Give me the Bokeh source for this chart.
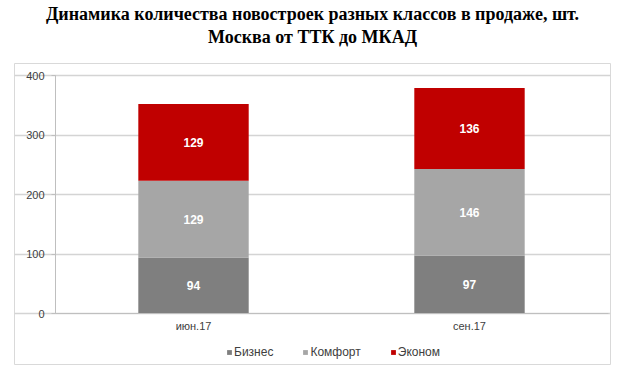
from bokeh.plotting import figure
from bokeh.models import (Range1d, Legend, LegendItem, ColumnDataSource, FixedTicker, LinearAxis)
from bokeh.core.properties import value
from bokeh.embed import file_html
from bokeh.resources import INLINE

# ---- data ----
periods = ["июн.17", "сен.17"]
series = ["Бизнес", "Комфорт", "Эконом"]
biznes = [94, 97]
komfort = [129, 146]
ekonom = [129, 136]
colors = ["#7f7f7f", "#a6a6a6", "#c00000"]
title_line1 = "Динамика количества новостроек разных классов в продаже, шт."
title_line2 = "Москва от ТТК до МКАД"
y_ticks = [0, 100, 200, 300, 400]

# category slots on a numeric axis: category i is centred at i + 0.5
xpos = [i + 0.5 for i in range(len(periods))]
data = {"x": xpos, "Бизнес": biznes, "Комфорт": komfort, "Эконом": ekonom}
src = ColumnDataSource(data)

n = len(periods)
x_left_pad, x_right_pad = 0.1486, 0.0109
grid_end = n + 0.0036

p = figure(width=612, height=366, output_backend="svg", toolbar_location=None,
           x_range=Range1d(-x_left_pad, n + x_right_pad),
           y_range=Range1d(-85.7, 420.2),
           min_border_left=14, min_border_right=2, min_border_top=63, min_border_bottom=2)
p.outline_line_color = "#d9d9d9"
p.outline_line_width = 1
p.background_fill_color = "white"
p.border_fill_color = "white"

serif_bold = dict(text_font="Liberation Serif", text_font_size="18px",
                  text_font_style="bold", text_color="#000000")

# first title line
p.title.text = title_line1
p.title.align = "center"
for k, v in serif_bold.items():
    setattr(p.title, k, v)
p.title.standoff = 0

# second title line: label of an empty axis above the frame
sub = LinearAxis(ticker=FixedTicker(ticks=[]), axis_label=title_line2,
                 axis_line_color=None, major_tick_line_color=None,
                 minor_tick_line_color=None, major_tick_out=0, major_tick_in=0,
                 minor_tick_out=0, major_label_standoff=0,
                 axis_label_standoff=17,
                 axis_label_text_font=serif_bold["text_font"],
                 axis_label_text_font_size=serif_bold["text_font_size"],
                 axis_label_text_font_style=serif_bold["text_font_style"],
                 axis_label_text_color=serif_bold["text_color"])
p.add_layout(sub, "above")

renderers = p.vbar_stack(series, x="x", width=0.4, source=src,
                         color=colors, line_color=None)

for i, name in enumerate(series):
    base = [sum(data[s][k] for s in series[:i]) for k in range(n)]
    mids = [b + v / 2 for b, v in zip(base, data[name])]
    lsrc = ColumnDataSource({"x": xpos, "y": mids, "t": [str(v) for v in data[name]]})
    p.text(x="x", y="y", text="t", source=lsrc, text_color="white",
           text_font=value("Liberation Sans"), text_font_style="bold",
           text_font_size="12px", text_align="center", text_baseline="middle")

# y axis drawn at x = 0, inside the framed box
yax = p.yaxis[0]
yax.fixed_location = 0
yax.bounds = (0, 400)
yax.ticker = FixedTicker(ticks=y_ticks)
yax.axis_line_color = "#bfbfbf"
yax.major_tick_line_color = "#bfbfbf"
yax.major_tick_out = 4
yax.major_tick_in = 0
yax.minor_tick_line_color = None
yax.major_label_text_font = "Liberation Sans"
yax.major_label_text_font_size = "11px"
yax.major_label_text_color = "#404040"
yax.major_label_standoff = 7

# x axis drawn at y = 0
xax = p.below[0]
xax.fixed_location = 0
xax.bounds = (0, grid_end)
xax.ticker = FixedTicker(ticks=xpos)
xax.major_label_overrides = {x: lab for x, lab in zip(xpos, periods)}
xax.axis_line_color = "#bfbfbf"
xax.major_tick_line_color = None
xax.major_tick_out = 0
xax.major_tick_in = 0
xax.minor_tick_line_color = None
xax.major_label_text_font = "Liberation Sans"
xax.major_label_text_font_size = "11px"
xax.major_label_text_color = "#404040"
xax.major_label_standoff = 6

p.xgrid.grid_line_color = None
p.ygrid.grid_line_color = "#d4d4d4"
p.ygrid.grid_line_width = 1.5
p.ygrid.bounds = (0, grid_end)

legend = Legend(items=[LegendItem(label=s, renderers=[r]) for s, r in zip(series, renderers)],
                orientation="horizontal", location=(212, 5),
                label_text_font="Liberation Sans", label_text_font_size="12px",
                label_text_color="#404040", glyph_width=6, glyph_height=6,
                spacing=29, label_standoff=2, padding=0, margin=0,
                border_line_color=None, background_fill_alpha=0)
p.add_layout(legend, "center")

open("out.html", "w").write(file_html(p, INLINE))
